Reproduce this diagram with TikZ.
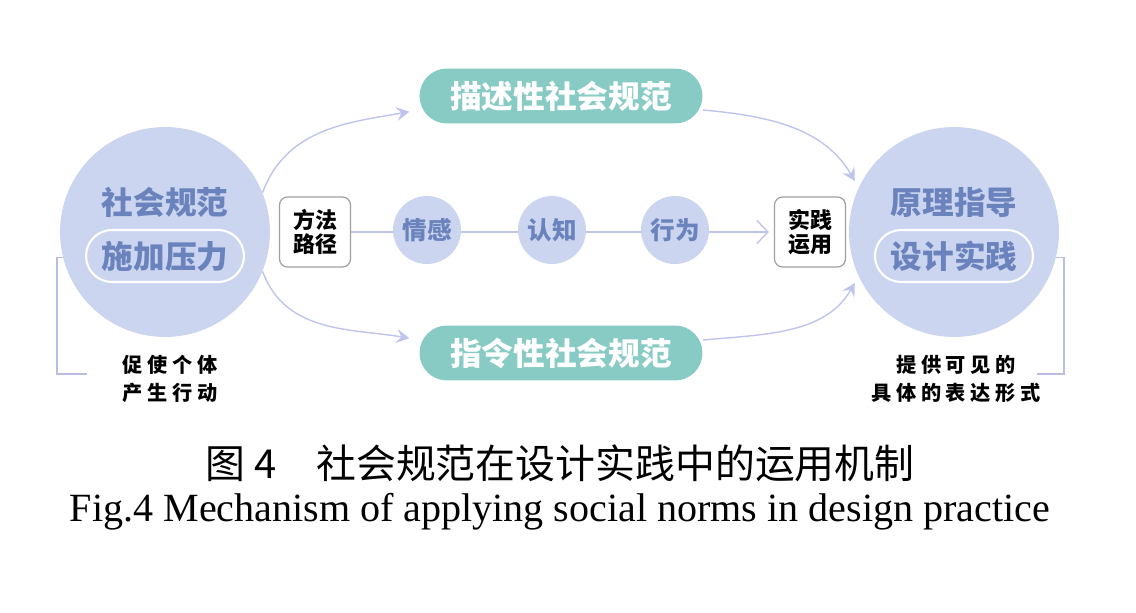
\documentclass[tikz,border=0pt]{standalone}
\usepackage{fontspec}
\setmainfont{Liberation Serif}
\newfontfamily\cjk{Noto Sans CJK SC}
\usetikzlibrary{arrows.meta, positioning, calc}
\definecolor{normblue}{RGB}{203,213,240}
\definecolor{normtext}{RGB}{107,131,189}
\definecolor{normteal}{RGB}{136,203,197}
\definecolor{normline}{RGB}{191,196,238}
\definecolor{normframe}{RGB}{160,160,160}

\begin{document}
\begin{tikzpicture}[
  x=0.02cm, y=-0.02cm,
  >={Stealth[length=2.6mm, width=2.8mm, inset=1mm]},
  bigdisc/.style={circle, fill=normblue, minimum size=4.2cm, inner sep=0pt},
  smalldisc/.style={circle, fill=normblue, minimum size=1.36cm, inner sep=0pt,
    font=\cjk\bfseries\fontsize{14pt}{14pt}\selectfont, text=normtext},
  disctext/.style={font=\cjk\bfseries\fontsize{18pt}{18pt}\selectfont, text=normtext},
  pressure/.style={draw=white, line width=1.2pt, rounded corners=0.52cm,
    minimum width=3.16cm, minimum height=1.04cm, inner sep=0pt},
  normpill/.style={fill=normteal, rounded corners=0.55cm, minimum width=5.66cm,
    minimum height=1.1cm, font=\cjk\bfseries\fontsize{18pt}{18pt}\selectfont, text=white},
  stepcard/.style={draw=normframe, fill=white, line width=0.7pt, rounded corners=0.16cm,
    minimum width=1.42cm, minimum height=1.4cm, inner sep=0pt, align=center,
    font=\cjk\bfseries\fontsize{12.5pt}{14pt}\selectfont},
  flow/.style={normline, line width=0.8pt},
  bracket/.style={normline!90!gray, line width=0.6pt},
  note/.style={align=center, font=\cjk\bfseries\fontsize{11.5pt}{16pt}\selectfont},
]
  \useasboundingbox (0,0) rectangle (1136,612);

  % the two big circles
  \node[bigdisc] (lcirc) at (165,232) {};
  \node[bigdisc] (rcirc) at (954,232) {};
  \node[disctext] (ltitle) at (165,202) {社会规范};
  \node[pressure, disctext] (lsub) at (165,256) {施加压力};
  \node[disctext] (rtitle) at (954,202) {原理指导};
  \node[pressure, disctext] (rsub) at (954,256) {设计实践};

  % norm pills
  \node[normpill] (desc) at (561,96) {描述性社会规范};
  \node[normpill] (instr) at (561,353) {指令性社会规范};

  % method and practice cards
  \node[stepcard] (method) at (315,232) {方法\\路径};
  \node[stepcard] (apply) at (810,232) {实践\\运用};

  % middle chain
  \draw[flow, -{Straight Barb[length=2.2mm, width=4.6mm]}, shorten >=0.1cm] (method) -- (apply);
  \node[smalldisc] (emotion) at (427,230) {情感};
  \node[smalldisc] (cognition) at (552,230) {认知};
  \node[smalldisc] (action) at (675,230) {行为};

  % curved arrows
  \draw[flow, ->, shorten >=0.2cm] (lcirc.22) to[out=70, in=190] ([yshift=-0.28cm]desc.west);
  \draw[flow, ->, shorten >=0.15cm] ([yshift=-0.28cm]desc.east) to[out=-5, in=120] (rcirc.155);
  \draw[flow, ->, shorten >=0.2cm] (lcirc.-22) to[out=-70, in=170] ([yshift=0.26cm]instr.west);
  \draw[flow, ->, shorten >=0.15cm] ([yshift=0.26cm]instr.east) to[out=5, in=-120] (rcirc.205);

  % side brackets and notes
  \coordinate (lcorner) at (57,374);
  \coordinate (lfoot) at (87,374);
  \coordinate (rcorner) at (1064,374);
  \coordinate (rfoot) at (1037,374);
  \draw[bracket] (lcirc.194) -| (lcorner) -- (lfoot);
  \draw[bracket] (rcirc.-14) -| (rcorner) -- (rfoot);
  \node[note] (lnote) at (170,379) {促 使 个 体\\产 生 行 动};
  \node[note] (rnote) at (956,379) {提 供 可 见 的\\具 体 的 表 达 形 式};

  % caption
  \node[font=\cjk\fontsize{22.7pt}{22.7pt}\selectfont] (capzh) at (560,463) {图 4\hspace{1em}社会规范在设计实践中的运用机制};
  \node[font=\fontsize{22.8pt}{22.8pt}\selectfont] (capen) at (560,512) {Fig.4 Mechanism of applying social norms in design practice};
\end{tikzpicture}
\end{document}
